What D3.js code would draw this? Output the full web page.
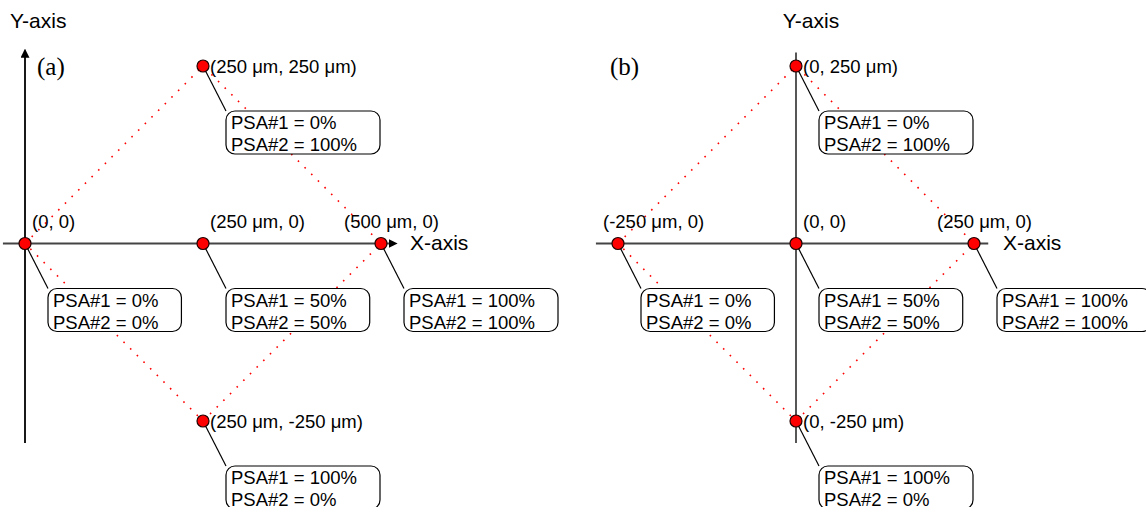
<!DOCTYPE html>
<html><head><meta charset="utf-8">
<script src="https://cdn.jsdelivr.net/npm/d3@7"></script>
<style>body{margin:0;background:#fff}svg{display:block}</style>
</head><body>
<svg id="chart" width="1146" height="507"></svg>
<script>
// ---------- data (µm) ----------
const aPointX = [0, 250, 500, 250, 250];
const aPointY = [0, 0, 0, 250, -250];
const aCoordLabels = ["(0, 0)", "(250 μm, 0)", "(500 μm, 0)", "(250 μm, 250 μm)", "(250 μm, -250 μm)"];
const aPsa1 = [0, 50, 100, 0, 100];
const aPsa2 = [0, 50, 100, 100, 0];
const aDiamond = [0, 3, 2, 4, 0];

const bPointX = [-250, 0, 250, 0, 0];
const bPointY = [0, 0, 0, 250, -250];
const bCoordLabels = ["(-250 μm, 0)", "(0, 0)", "(250 μm, 0)", "(0, 250 μm)", "(0, -250 μm)"];
const bPsa1 = [0, 50, 100, 0, 100];
const bPsa2 = [0, 50, 100, 100, 0];
const bDiamond = [0, 3, 2, 4, 0];

const panelTags = ["(a)", "(b)"];
const axisNames = ["X-axis", "Y-axis"];

// ---------- layout ----------
const aLabelDx = [7, 7, -37, 7, 7];
const aLabelAbove = [true, true, true, false, false];
const bLabelDx = [-15, 7, -37, 7, 7];
const bLabelAbove = [true, true, true, false, false];

const svg = d3.select("#chart");
const defs = svg.append("defs");
defs.append("marker").attr("id","arrow").attr("viewBox","0 0 10 10")
  .attr("refX",1).attr("refY",5).attr("markerWidth",5).attr("markerHeight",5)
  .attr("markerUnits","strokeWidth").attr("orient","auto")
  .append("path").attr("d","M0,0 L10,5 L0,10 Z").attr("fill","#000");

const FONT = "'Liberation Sans', Arial, sans-serif";

function drawPanel(cfg) {
  const g = svg.append("g");
  const x = d3.scaleLinear().domain(cfg.xDom).range(cfg.xRange);
  const y = d3.scaleLinear().domain([-250, 250]).range([421, 66]);

  // axes
  g.append("line").attr("x1", x(cfg.xExt[0])).attr("x2", x(cfg.xExt[1]))
    .attr("y1", y(0)).attr("y2", y(0))
    .attr("stroke", "#444").attr("stroke-width", 1.8)
    .attr("marker-end", cfg.arrows ? "url(#arrow)" : null);
  g.append("line").attr("x1", x(0)).attr("x2", x(0))
    .attr("y1", y(cfg.yExt[0])).attr("y2", y(cfg.yExt[1]))
    .attr("stroke", cfg.arrows ? "#000" : "#444").attr("stroke-width", 1.8)
    .attr("marker-end", cfg.arrows ? "url(#arrow)" : null);

  // axis names
  g.append("text").text(axisNames[0]).attr("x", cfg.xNamePos[0]).attr("y", cfg.xNamePos[1])
    .attr("font-family", FONT).attr("font-size", 21).attr("fill", "#000");
  g.append("text").text(axisNames[1]).attr("x", cfg.yNamePos[0]).attr("y", cfg.yNamePos[1])
    .attr("text-anchor", cfg.yNameAnchor)
    .attr("font-family", FONT).attr("font-size", 21).attr("fill", "#000");

  // panel tag
  g.append("text").text(cfg.tag).attr("x", cfg.tagPos[0]).attr("y", cfg.tagPos[1])
    .attr("font-family", "'Liberation Serif', 'Times New Roman', serif")
    .attr("font-size", 25).attr("fill", "#000");

  // dotted diamond
  const line = d3.line().x(i => x(cfg.px[i])).y(i => y(cfg.py[i]));
  g.append("path").attr("d", line(cfg.diamond)).attr("fill", "none")
    .attr("stroke", "#ff0000").attr("stroke-width", 1.6)
    .attr("stroke-dasharray", "1.6,7.8");

  const idx = d3.range(cfg.px.length);

  // leader lines
  g.selectAll(".lead").data(idx).join("line")
    .attr("x1", i => x(cfg.px[i])).attr("y1", i => y(cfg.py[i]))
    .attr("x2", i => x(cfg.px[i]) + 23).attr("y2", i => y(cfg.py[i]) + 45)
    .attr("stroke", "#000").attr("stroke-width", 1.2);

  // boxes
  idx.forEach(i => {
    const bx = x(cfg.px[i]) + 23, by = y(cfg.py[i]) + 45;
    const bg = g.append("g");
    const rect = bg.append("rect").attr("x", bx).attr("y", by).attr("height", 43)
      .attr("rx", 9).attr("ry", 9).attr("fill", "#fff").attr("stroke", "#000").attr("stroke-width", 1.2);
    const t1 = bg.append("text").text("PSA#1 = " + cfg.p1[i] + "%").attr("x", bx + 5).attr("y", by + 18)
      .attr("font-family", FONT).attr("font-size", 18.5).attr("fill", "#000");
    const t2 = bg.append("text").text("PSA#2 = " + cfg.p2[i] + "%").attr("x", bx + 5).attr("y", by + 40)
      .attr("font-family", FONT).attr("font-size", 18.5).attr("fill", "#000");
    const w = Math.max(t1.node().getComputedTextLength(), t2.node().getComputedTextLength());
    rect.attr("width", w + 28);
  });

  // points
  g.selectAll(".pt").data(idx).join("circle")
    .attr("cx", i => x(cfg.px[i])).attr("cy", i => y(cfg.py[i])).attr("r", 6)
    .attr("fill", "#ff0000").attr("stroke", "#200").attr("stroke-width", 1.2);

  // coordinate labels
  g.selectAll(".cl").data(idx).join("text")
    .text(i => cfg.labels[i])
    .attr("x", i => x(cfg.px[i]) + cfg.dx[i])
    .attr("y", i => y(cfg.py[i]) + (cfg.above[i] ? -16 : 7))
    .attr("font-family", FONT).attr("font-size", 18.5).attr("fill", "#000");
}

drawPanel({
  xDom: [0, 500], xRange: [25, 381], xExt: [-31, 512], yExt: [-281, 263], arrows: true,
  px: aPointX, py: aPointY, labels: aCoordLabels, p1: aPsa1, p2: aPsa2, diamond: aDiamond,
  dx: aLabelDx, above: aLabelAbove, tag: panelTags[0], tagPos: [37, 75],
  xNamePos: [410, 250], yNamePos: [10, 28], yNameAnchor: "start"
});
drawPanel({
  xDom: [-250, 250], xRange: [618, 974], xExt: [-281, 270], yExt: [-281, 269], arrows: false,
  px: bPointX, py: bPointY, labels: bCoordLabels, p1: bPsa1, p2: bPsa2, diamond: bDiamond,
  dx: bLabelDx, above: bLabelAbove, tag: panelTags[1], tagPos: [610, 75],
  xNamePos: [1003, 250], yNamePos: [811, 28], yNameAnchor: "middle"
});
</script>
</body></html>
